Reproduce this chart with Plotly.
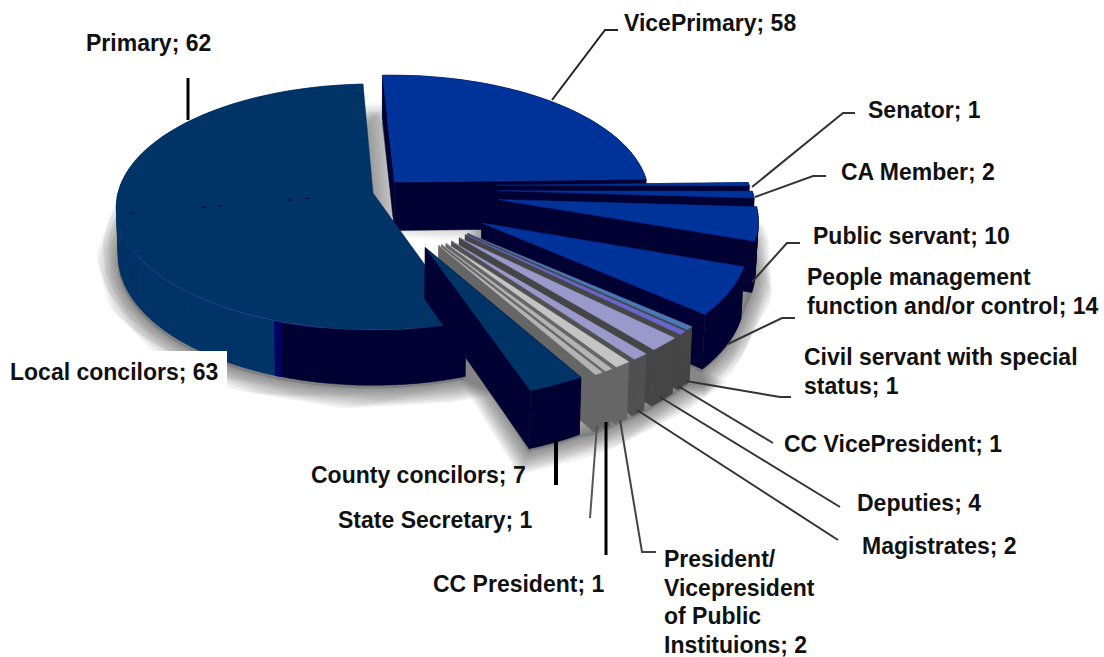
import math
import plotly.graph_objects as go

# Clockwise from the top of the pie
categories = ["VicePrimary", "Senator", "CA Member", "Public servant",
              "People management<br>function and/or control",
              "Civil servant with special<br>status", "CC VicePresident",
              "Deputies", "Magistrates",
              "President/<br>Vicepresident<br>of Public<br>Instituions",
              "CC President", "State Secretary", "County concilors",
              "Local concilors", "Primary"]
values = [58, 1, 2, 10, 14, 1, 1, 4, 2, 2, 1, 1, 7, 63, 62]

top_colors = ["#003399", "#003399", "#003399", "#003399", "#003399",
              "#4a78b8", "#6666cc", "#9999cc", "#9999cc", "#c4c4c4",
              "#b4b4b4", "#b4b4b4", "#003366", "#003366", "#003366"]
side_colors = ["#000033", "#000033", "#000033", "#000033", "#000033",
               "#454545", "#454545", "#454545", "#505050", "#666666",
               "#666666", "#666666", "#000033", "#000033", "#003366"]

# Slice pull-out distance and a small turn of the pull-out direction (degrees)
explode = [0.125, 0.49, 0.49, 0.49, 0.48, 0.48, 0.48, 0.48, 0.48, 0.48, 0.48, 0.48, 0.47, 0, 0]
explode_turn = [0, -7, -4, -5, 0, 0, 0, 0, 0, 0, 0, 0, 0, 0, 0]

# Label anchors: left edge and first-line centre, one entry per category
label_x = [623, 867, 840, 812, 806, 803, 783, 856, 861, 663, 432, 337, 310, 9, 85]
label_y = [23, 110, 172, 236, 277, 357, 444, 503, 546, 559, 584, 520, 475, 372, 43]
LINE_GAP = 28.5

# Leader lines: polyline points, stroke width, colour
leaders = [
    ([(552, 100), (605, 30), (618, 30)], 2, "#222"),
    ([(188, 120), (188, 78)], 3, "#000"),
    ([(752, 187), (843, 113), (855, 113)], 2, "#333"),
    ([(755, 197), (813, 176), (826, 176)], 2, "#333"),
    ([(752, 282), (787, 243), (800, 243)], 2, "#333"),
    ([(728, 344), (782, 318), (795, 318)], 2, "#333"),
    ([(686, 381), (780, 397), (791, 397)], 2, "#333"),
    ([(678, 386), (773, 443)], 2, "#333"),
    ([(660, 397), (840, 507)], 2, "#333"),
    ([(637, 410), (838, 540)], 2, "#333"),
    ([(620, 420), (642, 552), (656, 552)], 2, "#444"),
    ([(606, 422), (606, 555)], 3, "#000"),
    ([(597, 425), (590, 518)], 2, "#555"),
    ([(556, 440), (556, 485)], 4, "#000"),
]

# Fractions of the radius where the seam between the two large slices shows
seam_marks = [0.25, 0.32, 0.59, 0.656, 0.93]

# Perspective camera for the pie disc
CX, CY = 373, 193
RX, RY = 255, 121.4
PERSP = 0.114
DEPTH = 49
START_DEG = -2.5
SIDE_SPLIT_DEG = 200


def project(x, y, z=0.0):
    s = 1 / (1 - PERSP * y)
    sx = CX + RX * x * s
    sx = CX + (sx - CX) * (1 - 0.008 * z)
    return sx, CY + RY * y * s + DEPTH * z * s


def unit(deg):
    a = math.radians(deg)
    return math.sin(a), -math.cos(a)


total = sum(values)
spans = []
cum = START_DEG
for v in values:
    spans.append((cum, cum + v / total * 360))
    cum += v / total * 360

offsets = []
for (a, b), e, t in zip(spans, explode, explode_turn):
    ux, uy = unit((a + b) / 2 + t)
    offsets.append((e * ux, e * uy))


def rim(i, a, b, z=0.0):
    ox, oy = offsets[i]
    n = max(2, int(abs(b - a) / 1.5) + 2)
    pts = []
    for k in range(n):
        ux, uy = unit(a + (b - a) * k / (n - 1))
        pts.append(project(ox + ux, oy + uy, z))
    return pts


def apex(i, z=0.0):
    return project(offsets[i][0], offsets[i][1], z)


fig = go.Figure()


def add_poly(pts, color, name=""):
    xs = [p[0] for p in pts] + [pts[0][0]]
    ys = [p[1] for p in pts] + [pts[0][1]]
    fig.add_trace(go.Scatter(x=xs, y=ys, mode="lines", fill="toself", fillcolor=color,
                             line=dict(color=color, width=0.5), hoverinfo="skip",
                             showlegend=False, name=name))


def add_wall(i, a, b, color):
    # Outer wall as a strip of quads, so the silhouette stays straight at the tangents
    upper, lower = rim(i, a, b), rim(i, a, b, 1)
    xs, ys = [], []
    for k in range(len(upper) - 1):
        quad = [upper[k], upper[k + 1], lower[k + 1], lower[k], upper[k]]
        xs += [p[0] for p in quad] + [None]
        ys += [p[1] for p in quad] + [None]
    fig.add_trace(go.Scatter(x=xs, y=ys, mode="lines", fill="toself", fillcolor=color,
                             line=dict(color=color, width=0.5), hoverinfo="skip",
                             showlegend=False))


def add_shadow(group, strength=0.075):
    pts = [apex(group[0], 0.6)]
    for i in group:
        pts += rim(i, spans[i][0], spans[i][1], 0.95)
    pts.append(apex(group[-1], 0.6))
    xs = [p[0] - 1 for p in pts] + [pts[0][0] - 1]
    ys = [p[1] + 6 for p in pts] + [pts[0][1] + 6]
    for w in range(4, 41, 4):
        fig.add_trace(go.Scatter(x=xs, y=ys, mode="lines",
                                 line=dict(color=f"rgba(70,70,70,{strength})", width=w),
                                 hoverinfo="skip", showlegend=False))
    fig.add_trace(go.Scatter(x=xs, y=ys, mode="lines", fill="toself",
                             fillcolor="rgba(70,70,70,0.3)", line=dict(width=0),
                             hoverinfo="skip", showlegend=False))


def add_side_faces(i):
    a, b = spans[i]
    color = side_colors[i]
    add_poly([apex(i), rim(i, a, a)[0], rim(i, a, a, 1)[0], apex(i, 1)], color)
    add_poly([apex(i), rim(i, b, b)[0], rim(i, b, b, 1)[0], apex(i, 1)], color)
    add_wall(i, a, b, color)


def add_top(i):
    a, b = spans[i]
    add_poly([apex(i)] + rim(i, a, b), top_colors[i], name=categories[i])


I_LOCAL, I_PRIMARY, I_COUNTY = 13, 14, 12

add_shadow([I_LOCAL, I_PRIMARY])
add_shadow([0], strength=0.04)
add_shadow([1, 2, 3, 4])
add_shadow(list(range(5, 13)))

# Far slice first, then the pair of large slices, then the pulled-out fan
add_side_faces(0)
add_top(0)

split = SIDE_SPLIT_DEG
a_local = spans[I_LOCAL][0]
b_primary = spans[I_PRIMARY][1]
add_wall(I_LOCAL, a_local, split, "#000033")
add_wall(I_LOCAL, split, b_primary, "#003366")
add_wall(I_LOCAL, split - 1.2, split + 0.2, "#000066")
# Both large slices share a colour and an apex, so one outline closes them cleanly
add_poly([apex(I_LOCAL)] + rim(I_LOCAL, a_local, b_primary), top_colors[I_LOCAL], name="Local + Primary")

arc = rim(I_LOCAL, 190, 243)
fig.add_trace(go.Scatter(x=[p[0] for p in arc], y=[p[1] for p in arc], mode="lines", opacity=0.75,
                         line=dict(color="#1f3f9f", width=1), hoverinfo="skip", showlegend=False))

# Small marks along the seam where Local meets Primary
seam_u = unit(spans[I_PRIMARY][0])
seam_x, seam_y = [], []
for f in seam_marks:
    for df in (0, 0.02):
        p = project((f + df) * seam_u[0], (f + df) * seam_u[1])
        seam_x.append(p[0])
        seam_y.append(p[1])
    seam_x.append(None)
    seam_y.append(None)
fig.add_trace(go.Scatter(x=seam_x, y=seam_y, mode="lines", line=dict(color="#000033", width=1),
                         hoverinfo="skip", showlegend=False))

for i in range(1, 13):
    add_side_faces(i)
    add_top(i)

# Leader lines
for pts, w, c in leaders:
    fig.add_trace(go.Scatter(x=[p[0] for p in pts], y=[p[1] for p in pts], mode="lines",
                             line=dict(color=c, width=w), hoverinfo="skip", showlegend=False))

# Labels, one annotation per text line for a tight line pitch
annotations = []
for cat, val, lx, ly in zip(categories, values, label_x, label_y):
    for k, line in enumerate(f"{cat}; {val}".split("<br>")):
        annotations.append(dict(x=lx, y=ly + k * LINE_GAP, xref="x", yref="y",
                                text=f"<b>{line}</b>",
                                showarrow=False, xanchor="left", yanchor="middle",
                                align="left", borderpad=0,
                                font=dict(family="Liberation Sans", size=23, color="#111111")))

fig.update_layout(
    width=1104, height=657, autosize=False,
    margin=dict(l=0, r=0, t=0, b=0),
    paper_bgcolor="white", plot_bgcolor="white",
    xaxis=dict(range=[0, 1104], visible=False, fixedrange=True),
    yaxis=dict(range=[657, 0], visible=False, fixedrange=True),
    showlegend=False,
    annotations=annotations,
    shapes=[dict(type="rect", x0=0, x1=227, y0=351, y1=388, fillcolor="white",
                 line=dict(width=0), layer="above")],
)

fig.write_html("out.html", config={"displayModeBar": False})
